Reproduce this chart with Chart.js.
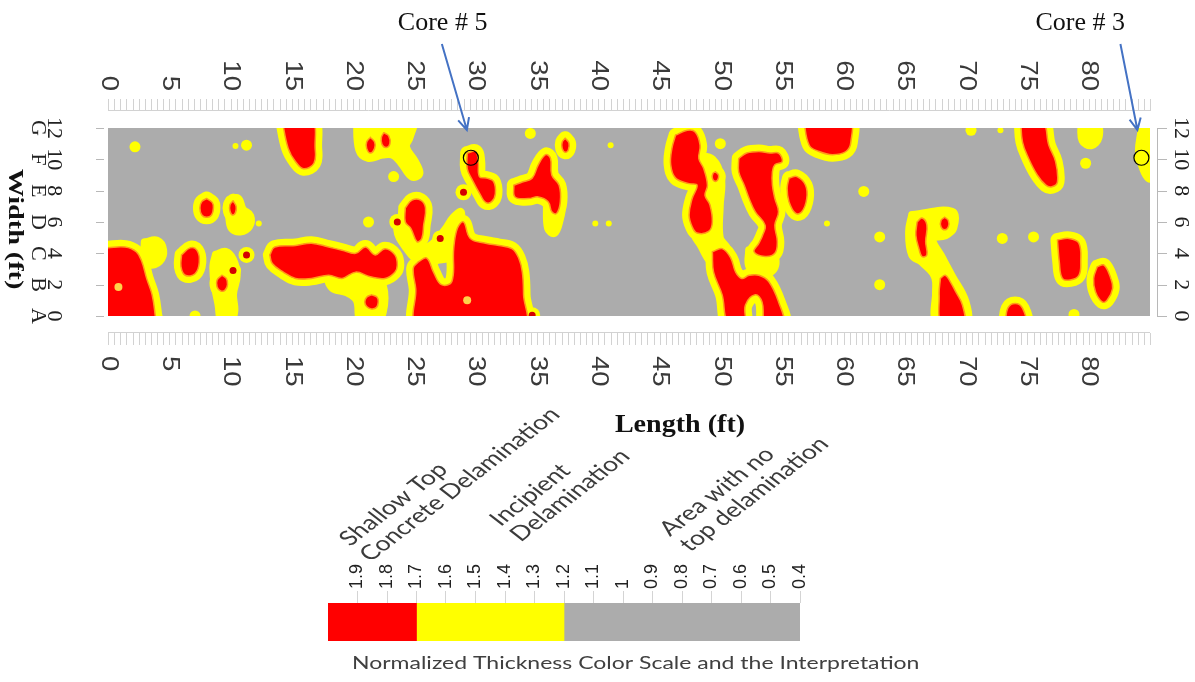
<!DOCTYPE html>
<html>
<head>
<meta charset="utf-8">
<script src="https://cdn.jsdelivr.net/npm/chart.js@4.4.1/dist/chart.umd.min.js"></script>
<style>
  html, body { margin: 0; padding: 0; background: #fff; }
  #wrap { position: relative; width: 1195px; height: 682px; }
  #mapa { position: absolute; left: 0; top: 0; }
  #escala { position: absolute; left: 0; top: 400px; }
</style>
</head>
<body>
<div id="wrap">
  <canvas id="mapa" width="1195" height="682"></canvas>
  <canvas id="escala" width="1195" height="282"></canvas>
</div>
<script>
//Marcas de los ejes (pies)
const marcasLargo = [0,5,10,15,20,25,30,35,40,45,50,55,60,65,70,75,80];
const marcasAncho = [0,2,4,6,8,10,12];
const filasAncho = ['A','B','C','D','E','F','G'];

//Zonas rojas: contornos [largo, ancho] en pies
const zonasRojas = [
  [[-0.5,4.3],[0,4.35],[1.4,4.4],[2.3,4.1],[2.75,3.5],[3.15,2.4],[3.6,1.35],[3.85,0.05],[3.9,-0.5],[-0.5,-0.5],[-0.5,4.3]],
  [[14.2,12.5],[16.6,12.5],[16.9,10.7],[16.8,9.75],[15.95,9.4],[15.3,9.85],[14.7,10.7],[14.2,12.5]],
  [[8.05,7.5],[8.5,7.25],[8.6,6.9],[8.45,6.45],[8.05,6.3],[7.65,6.45],[7.5,6.9],[7.65,7.3],[8.05,7.5]],
  [[10.2,7.35],[10.45,7.0],[10.4,6.6],[10.15,6.45],[9.95,6.7],[9.95,7.1],[10.2,7.35]],
  [[6.0,3.9],[6.7,4.35],[7.25,4.2],[7.45,3.45],[7.1,2.7],[6.3,2.6],[5.95,3.15],[6.0,3.9]],
  [[9.3,2.6],[9.65,2.4],[9.75,2.0],[9.55,1.65],[9.2,1.6],[8.9,1.85],[8.9,2.3],[9.3,2.6]],
  [[13.2,3.9],[13.6,4.4],[15.3,4.5],[16.6,4.65],[18.0,4.4],[19.1,4.2],[20.2,4.0],[21.0,4.4],[21.8,3.9],[22.6,4.3],[23.4,3.9],[23.6,3.25],[23.4,2.8],[22.6,2.4],[21.4,2.5],[20.2,2.8],[19.1,2.4],[18.0,2.6],[16.6,2.4],[15.3,2.4],[14.3,2.8],[13.4,3.35],[13.2,3.9]],
  [[21.5,1.35],[21.95,1.2],[22.05,0.9],[21.9,0.55],[21.5,0.45],[21.1,0.6],[20.95,0.9],[21.1,1.2],[21.5,1.35]],
  [[21.4,11.4],[21.75,11.1],[21.75,10.7],[21.4,10.4],[21.1,10.7],[21.1,11.1],[21.4,11.4]],
  [[22.5,11.7],[22.9,11.5],[23.0,11.0],[22.7,10.75],[22.35,10.95],[22.3,11.4],[22.5,11.7]],
  [[29.3,10.4],[30.0,10.5],[30.2,9.85],[30.3,8.9],[30.9,8.8],[31.45,8.6],[31.6,7.8],[31.3,7.3],[30.8,7.25],[30.4,7.7],[29.7,8.7],[29.3,9.4],[29.3,10.4]],
  [[33.1,8.35],[33.8,8.55],[34.6,8.8],[35.1,9.65],[35.7,10.3],[36.1,10.05],[36.2,9.0],[36.8,8.35],[36.9,7.3],[36.6,6.55],[36.2,6.65],[35.9,7.3],[35.1,7.6],[34.3,7.5],[33.2,7.6],[33.1,8.35]],
  [[37.3,11.35],[37.6,11.05],[37.55,10.6],[37.3,10.45],[37.05,10.7],[37.05,11.1],[37.3,11.35]],
  [[24.25,6.9],[24.8,7.4],[25.5,7.4],[25.9,6.9],[25.75,5.8],[25.6,4.95],[25.2,4.75],[24.7,5.6],[24.25,6.0],[24.25,6.9]],
  [[25.3,3.45],[26.0,3.7],[26.55,2.8],[27.2,2.0],[28.05,2.2],[28.2,4.3],[28.5,5.6],[29.0,6.0],[29.55,4.95],[30.8,4.65],[31.9,4.5],[32.95,4.3],[33.5,3.7],[33.8,2.8],[33.9,1.35],[33.9,-0.5],[25.3,-0.5],[25.1,1.75],[24.9,3.05],[25.3,3.45]],
  [[46.3,11.55],[47.25,11.85],[47.9,11.75],[48.3,10.9],[48.2,10.05],[48.6,9.4],[48.9,8.35],[48.7,7.7],[49.1,7.1],[49.3,6.0],[49.0,5.4],[48.05,5.3],[47.65,5.7],[47.4,6.45],[47.65,7.5],[48.05,8.35],[47.4,8.45],[46.3,8.8],[45.9,9.65],[46.0,10.7],[46.3,11.55]],
  [[49.55,9.2],[49.8,9.0],[49.75,8.7],[49.5,8.6],[49.3,8.8],[49.35,9.1],[49.55,9.2]],
  [[49.3,4.1],[50.1,4.3],[50.8,3.7],[51.2,2.8],[51.7,2.4],[52.3,2.6],[53.1,2.6],[53.9,2.2],[54.7,0.9],[55.1,-0.5],[53.65,-0.5],[53.35,0.9],[52.8,1.35],[52.0,0.7],[51.9,-0.5],[50.6,-0.5],[50.1,1.35],[49.4,2.8],[49.3,4.1]],
  [[51.45,10.05],[52.1,10.4],[53.1,10.5],[54.0,10.4],[54.7,10.4],[55.0,9.85],[54.4,9.65],[54.2,9.2],[54.2,8.35],[54.4,7.5],[54.7,6.65],[54.4,5.8],[54.6,4.75],[54.4,4.0],[53.6,3.8],[52.7,4.1],[53.1,4.65],[53.4,5.15],[53.6,5.8],[52.8,6.65],[52.3,7.5],[51.9,8.35],[51.45,9.2],[51.45,10.05]],
  [[55.55,8.8],[56.2,8.9],[56.9,8.35],[57.0,7.5],[56.6,6.65],[56.1,6.55],[55.55,7.3],[55.4,8.15],[55.55,8.8]],
  [[56.75,12.5],[60.45,12.5],[60.6,11.1],[60.2,10.5],[59.1,10.3],[58.0,10.5],[57.2,10.9],[56.75,12.5]],
  [[74.45,12.5],[76.2,12.5],[76.75,10.9],[77.3,9.85],[77.45,8.55],[77.0,8.25],[76.5,8.35],[75.8,9.0],[75.1,10.05],[74.6,11.1],[74.45,12.5]],
  [[66.0,6.0],[66.4,6.25],[66.8,5.8],[66.7,4.75],[66.8,3.9],[66.4,3.8],[66.15,4.3],[65.9,5.15],[66.0,6.0]],
  [[68.25,6.3],[68.55,6.1],[68.55,5.7],[68.25,5.5],[67.95,5.7],[67.95,6.1],[68.25,6.3]],
  [[67.9,2.4],[68.3,2.6],[68.7,2.2],[69.15,1.55],[69.7,0.7],[69.8,-0.5],[68.05,-0.5],[67.8,1.35],[67.9,2.4]],
  [[77.45,4.85],[78.4,4.95],[79.2,4.65],[79.35,3.45],[79.2,2.6],[78.5,2.3],[77.85,2.4],[77.6,3.45],[77.45,4.85]],
  [[80.7,3.15],[81.25,3.25],[81.8,2.4],[81.95,1.75],[81.5,1.0],[81.1,0.9],[80.55,1.55],[80.4,2.4],[80.7,3.15]],
  [[73.2,-0.5],[73.4,0.5],[74.0,0.8],[74.6,0.5],[74.8,-0.5],[73.2,-0.5]]
];

//Zonas amarillas (delaminación incipiente) sin núcleo rojo
const zonasAmarillas = [
  [[3.0,4.7],[4.0,4.8],[4.5,4.2],[4.2,3.5],[3.4,3.3],[3.0,3.8],[3.0,4.7]],
  [[9.9,7.4],[10.6,7.5],[11.0,6.8],[11.6,6.4],[11.5,5.7],[10.8,5.4],[10.1,5.6],[9.9,6.3],[9.9,7.4]],
  [[8.8,3.9],[9.6,4.1],[10.2,3.6],[10.5,2.6],[10.2,1.4],[10.3,0.3],[9.9,-0.5],[9.3,-0.5],[9.0,0.8],[8.7,2.0],[8.6,3.2],[8.8,3.9]],
  [[17.8,2.6],[21.5,2.5],[22.4,2.0],[22.4,0.2],[21.6,-0.5],[20.6,-0.3],[20.3,1.0],[19.5,1.5],[18.3,1.8],[17.8,2.6]],
  [[20.3,12.5],[24.8,12.5],[24.6,11.4],[24.3,10.8],[25.0,9.9],[25.4,9.1],[24.8,8.9],[23.9,9.8],[23.2,10.3],[22.4,10.3],[21.2,10.1],[20.5,10.6],[20.3,12.5]],
  [[35.8,7.2],[36.9,7.0],[36.8,6.0],[36.4,5.3],[35.9,5.6],[35.8,7.2]],
  [[24.0,6.3],[24.8,5.0],[25.5,4.3],[26.5,4.6],[27.5,5.5],[28.2,6.3],[28.8,6.6],[28.5,4.0],[27.0,3.6],[25.5,3.5],[24.2,4.5],[23.6,5.5],[24.0,6.3]],
  [[48.1,10.2],[49.3,10.0],[50.0,8.8],[49.9,7.0],[49.9,5.0],[50.5,4.2],[49.4,3.4],[48.3,4.6],[47.8,5.4],[48.3,8.5],[48.1,10.2]],
  [[52.3,4.2],[54.2,4.0],[54.3,3.0],[53.0,2.6],[52.3,3.2],[52.3,4.2]],
  [[84.3,11.8],[85.5,11.9],[85.5,8.9],[84.9,8.8],[84.4,9.5],[84.1,10.5],[84.3,11.8]],
  [[65.6,6.45],[68.85,6.65],[68.95,5.6],[68.3,5.15],[67.25,4.95],[68.05,3.7],[68.8,2.6],[69.95,0.9],[69.95,-0.5],[67.65,-0.5],[67.5,2.4],[66.4,3.45],[65.6,3.9],[65.35,5.4],[65.6,6.45]],
  [[79.4,12.3],[80.6,12.3],[80.8,11.4],[80.2,10.9],[79.5,11.2],[79.4,12.3]]
];

//Puntos sueltos
const puntosRojos = [[11.3,3.9],[10.2,2.9],[29.0,7.9],[23.6,6.0],[27.1,4.95],[34.6,0.05]];
const manchasAmarillas = [[2.2,10.8],[11.3,10.9],[21.25,6.0],[23.3,8.9],[34.45,11.65],[49.95,11.0],[61.65,7.95],[62.95,2.0],[62.95,5.05],[75.5,5.05],[72.95,4.95],[70.4,11.85],[7.1,0.0],[78.8,0.1],[79.75,9.75]];
const motasAmarillas = [[10.4,10.85],[12.3,5.9],[39.75,5.9],[40.85,5.9],[41.0,10.9],[58.65,5.9],[72.8,11.85]];
const manchasClaras = [[0.85,1.85],[29.3,1.0]];

//Núcleos extraídos
const nucleos = [[29.6,10.1],[84.3,10.1]];
const nombresNucleos = ['Core # 5','Core # 3'];

//Escala de colores
const marcasEscala = [1.9,1.8,1.7,1.6,1.5,1.4,1.3,1.2,1.1,1,0.9,0.8,0.7,0.6,0.5,0.4];
const tramosEscala = [[2.0,1.7],[1.7,1.2],[1.2,0.4]];
const textosTramos = [['Shallow Top','Concrete Delamination'],['Incipient','Delamination'],['Area with no','top delamination']];
const tituloEscala = 'Normalized Thickness Color Scale and the Interpretation';

const ROJO = '#ff0000';
const AMARILLO = '#ffff00';
const GRIS = '#acacac';
const NARANJA = '#ff9a1a';

const aPuntos = lista => lista.map(([x, y]) => ({x, y}));

//Contorno relleno
function zona(lista, relleno, borde, grosor, orden) {
    return {
        data: aPuntos(lista),
        backgroundColor: relleno,
        borderColor: borde,
        borderWidth: grosor,
        borderJoinStyle: 'round',
        borderCapStyle: 'round',
        fill: 'shape',
        tension: 0.4,
        pointRadius: 0,
        order: orden,
        clip: 0
    };
}

//Puntos redondos
function manchas(lista, color, radio, orden) {
    return {
        data: aPuntos(lista),
        showLine: false,
        pointRadius: radio,
        pointBackgroundColor: color,
        pointBorderWidth: 0,
        order: orden,
        clip: 0
    };
}

const conjuntos = [];
zonasAmarillas.forEach(z => conjuntos.push(zona(z, AMARILLO, AMARILLO, 8, 6)));
zonasRojas.forEach(z => conjuntos.push(zona(z, AMARILLO, AMARILLO, 14, 5)));
conjuntos.push(manchas(manchasAmarillas, AMARILLO, 5.5, 4));
conjuntos.push(manchas(motasAmarillas, AMARILLO, 3, 4));
conjuntos.push(manchas(puntosRojos, AMARILLO, 8, 4));
zonasRojas.forEach(z => conjuntos.push(zona(z, ROJO, NARANJA, 1.5, 2)));
conjuntos.push(manchas(puntosRojos, '#d40000', 3.5, 1));
conjuntos.push(manchas(manchasClaras, '#ffd24a', 4, 1));
conjuntos.push({
    data: aPuntos(nucleos),
    showLine: false,
    pointRadius: 7.5,
    pointBackgroundColor: ['rgba(0,0,0,0)', AMARILLO],
    pointBorderColor: '#000',
    pointBorderWidth: 1.2,
    order: 0,
    clip: false
});

//Texto girado 90 grados a la derecha, estirado en el sentido de lectura
function textoGirado(ctx, texto, x, y, alinear, estira) {
    ctx.save();
    ctx.translate(x, y);
    ctx.rotate(Math.PI / 2);
    ctx.scale(estira, 1);
    ctx.textAlign = alinear;
    ctx.textBaseline = 'middle';
    ctx.fillText(texto, 0, 0);
    ctx.restore();
}

//Flecha azul
function flecha(ctx, x1, y1, x2, y2) {
    const ang = Math.atan2(y2 - y1, x2 - x1);
    ctx.beginPath();
    ctx.moveTo(x1, y1);
    ctx.lineTo(x2, y2);
    ctx.moveTo(x2 - 13 * Math.cos(ang - 0.45), y2 - 13 * Math.sin(ang - 0.45));
    ctx.lineTo(x2, y2);
    ctx.lineTo(x2 - 13 * Math.cos(ang + 0.45), y2 - 13 * Math.sin(ang + 0.45));
    ctx.stroke();
}

const desplazaNombre = [-73, -106];
const desplazaFlecha = [-29, -21];

const rotulosMapa = {
    id: 'rotulosMapa',
    beforeDatasetsDraw(chart) {
        const {ctx, chartArea: a} = chart;
        ctx.save();
        ctx.fillStyle = GRIS;
        ctx.fillRect(a.left, a.top, a.right - a.left, a.bottom - a.top);
        ctx.restore();
    },
    afterDraw(chart) {
        const {ctx, chartArea: a, scales: {x, y}} = chart;
        ctx.save();

        // Reglas arriba y abajo
        ctx.strokeStyle = '#d2d2d2';
        ctx.lineWidth = 1;
        ctx.beginPath();
        ctx.moveTo(a.left, a.top - 17.5); ctx.lineTo(a.right, a.top - 17.5);
        ctx.moveTo(a.left, a.bottom + 16.5); ctx.lineTo(a.right, a.bottom + 16.5);
        for (let v = 0; v <= 85; v += 0.5) {
            const px = Math.round(x.getPixelForValue(v)) + 0.5;
            ctx.moveTo(px, a.top - 29); ctx.lineTo(px, a.top - 17);
            ctx.moveTo(px, a.bottom + 17); ctx.lineTo(px, a.bottom + 29);
        }
        ctx.stroke();

        // Ejes laterales
        ctx.strokeStyle = '#b8b8b8';
        ctx.beginPath();
        ctx.moveTo(a.right + 7.5, a.top); ctx.lineTo(a.right + 7.5, a.bottom);
        marcasAncho.forEach(v => {
            const py = Math.round(y.getPixelForValue(v)) + 0.5;
            ctx.moveTo(a.right + 7, py); ctx.lineTo(a.right + 17, py);
            ctx.moveTo(a.left - 12, py); ctx.lineTo(a.left - 4, py);
        });
        ctx.stroke();

        // Números de longitud
        ctx.fillStyle = '#3a3a3a';
        ctx.font = '23px "Liberation Sans", Arial, sans-serif';
        marcasLargo.forEach(v => {
            const px = x.getPixelForValue(v);
            textoGirado(ctx, String(v), px, a.top - 37, 'right', 1.2);
            textoGirado(ctx, String(v), px, a.bottom + 40, 'left', 1.2);
        });

        // Números y filas de ancho
        ctx.fillStyle = '#222';
        ctx.font = '21px "Liberation Serif", "Times New Roman", serif';
        marcasAncho.forEach((v, i) => {
            const py = y.getPixelForValue(v);
            textoGirado(ctx, String(v), a.right + 31, py, 'center', 1.05);
            textoGirado(ctx, String(v), 54, py, 'center', 1.05);
            textoGirado(ctx, filasAncho[i], 38, py, 'center', 1.05);
        });

        // Títulos de los ejes
        ctx.fillStyle = '#111';
        ctx.font = 'bold 22px "Liberation Serif", "Times New Roman", serif';
        textoGirado(ctx, 'Width (ft)', 15, (a.top + a.bottom) / 2 + 7, 'center', 1.28);
        ctx.font = 'bold 26px "Liberation Serif", "Times New Roman", serif';
        ctx.textAlign = 'center';
        ctx.textBaseline = 'middle';
        ctx.save();
        ctx.translate(680, 425);
        ctx.scale(1.08, 1);
        ctx.fillText('Length (ft)', 0, 0);
        ctx.restore();

        // Núcleos con su flecha
        ctx.strokeStyle = '#4472c4';
        ctx.lineWidth = 2;
        ctx.font = '26px "Liberation Serif", "Times New Roman", serif';
        ctx.textAlign = 'left';
        ctx.textBaseline = 'alphabetic';
        nucleos.forEach(([cx], i) => {
            const px = x.getPixelForValue(cx);
            ctx.fillText(nombresNucleos[i], px + desplazaNombre[i], 30);
            flecha(ctx, px + desplazaFlecha[i], 44, px - 4, a.top + 2);
        });
        ctx.restore();
    }
};

new Chart(document.getElementById('mapa'), {
    type: 'line',
    data: { datasets: conjuntos },
    options: {
        responsive: false,
        animation: false,
        events: [],
        layout: { padding: { left: 108, top: 128, right: 45, bottom: 366 } },
        plugins: { legend: { display: false }, tooltip: { enabled: false } },
        scales: {
            x: { type: 'linear', min: 0, max: 85, display: false },
            y: { type: 'linear', min: 0, max: 12, display: false }
        }
    },
    plugins: [rotulosMapa]
});

//Textos de la escala de colores
const anclasTramos = [[22, 56], [84, 76], [106, 66]];

const rotulosEscala = {
    id: 'rotulosEscala',
    afterDraw(chart) {
        const {ctx, chartArea: a, scales: {x}} = chart;
        ctx.save();
        ctx.fillStyle = '#3b3b3b';
        ctx.font = '20.5px Lato, "Open Sans", sans-serif';
        ctx.textAlign = 'left';
        ctx.textBaseline = 'alphabetic';
        textosTramos.forEach((lineas, i) => {
            const x0 = x.getPixelForValue(tramosEscala[i][0]) + anclasTramos[i][0];
            const y0 = a.top - anclasTramos[i][1];
            lineas.forEach((t, j) => {
                ctx.save();
                ctx.translate(x0, y0);
                ctx.scale(1.3, 1);
                ctx.rotate(-Math.PI / 4);
                ctx.fillText(t, 0, j * 22);
                ctx.restore();
            });
        });
        ctx.font = '17.7px Lato, "Open Sans", sans-serif';
        ctx.fillStyle = '#404040';
        ctx.translate(a.left + 24, a.bottom + 28);
        ctx.scale(1.3, 1);
        ctx.fillText(tituloEscala, 0, 0);
        ctx.restore();
    }
};

new Chart(document.getElementById('escala'), {
    type: 'bar',
    data: {
        labels: [''],
        datasets: tramosEscala.map((t, i) => ({
            data: [t],
            backgroundColor: [ROJO, AMARILLO, GRIS][i],
            borderWidth: 0,
            barPercentage: 1,
            categoryPercentage: 1,
            grouped: false
        }))
    },
    options: {
        indexAxis: 'y',
        responsive: false,
        animation: false,
        events: [],
        layout: { padding: { left: 328, right: 395, top: 143, bottom: 41 } },
        plugins: { legend: { display: false }, tooltip: { enabled: false } },
        scales: {
            x: {
                type: 'linear',
                position: 'top',
                reverse: true,
                min: 0.4,
                max: 2.0,
                afterBuildTicks: s => { s.ticks = marcasEscala.map(v => ({ value: v })); },
                afterFit: s => { s.height = 60; },
                grid: { drawOnChartArea: false, tickLength: 12, color: '#d4d4d4' },
                border: { display: false },
                ticks: {
                    autoSkip: false,
                    minRotation: 90,
                    maxRotation: 90,
                    padding: 2,
                    labelOffset: 21.6,
                    color: '#222',
                    font: { family: '"Liberation Sans", Arial, sans-serif', size: 18 },
                    callback: v => String(v)
                }
            },
            y: { display: false }
        }
    },
    plugins: [rotulosEscala]
});
</script>
</body>
</html>
